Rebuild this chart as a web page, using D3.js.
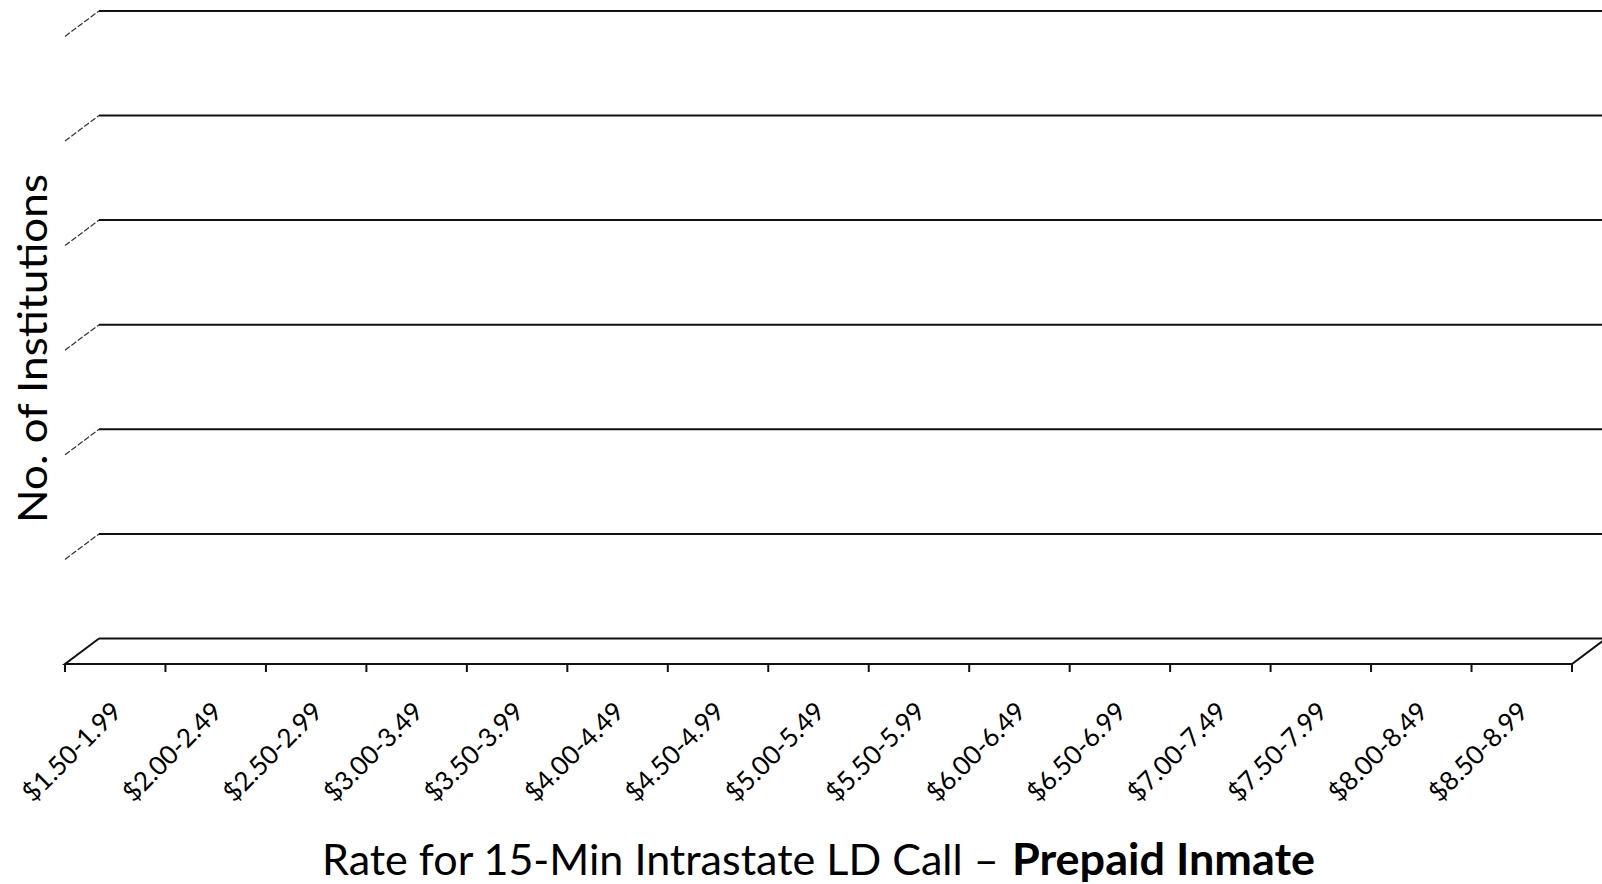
<!DOCTYPE html>
<html>
<head>
<meta charset="utf-8">
<script src="https://cdn.jsdelivr.net/npm/d3@7"></script>
<style>
  html, body { margin: 0; padding: 0; background: #fff; }
  svg { display: block; }
  text { font-family: Lato, "Open Sans", "Noto Sans", sans-serif; fill: #000; }
</style>
</head>
<body>
<svg id="chart" width="1602" height="884"></svg>
<script>
// Rate bands for a 15-minute intrastate long-distance prepaid call
const categories = [
  "$1.50-1.99", "$2.00-2.49", "$2.50-2.99", "$3.00-3.49", "$3.50-3.99",
  "$4.00-4.49", "$4.50-4.99", "$5.00-5.49", "$5.50-5.99", "$6.00-6.49",
  "$6.50-6.99", "$7.00-7.49", "$7.50-7.99", "$8.00-8.49", "$8.50-8.99"
];
// Number of institutions per rate band
const institutions = [0, 0, 0, 0, 0, 0, 0, 0, 0, 0, 0, 0, 0, 0, 0];
// Value-axis gridline positions (labels hidden)
const yTicks = [0, 1, 2, 3, 4, 5, 6];

const xTitleRegular = "Rate for 15-Min Intrastate LD Call \u2013";
const xTitleBold = "Prepaid Inmate";
const yTitle = "No. of Institutions";

const W = 1602, H = 884;
const svg = d3.select("#chart");

// 3-D depth offset of the back wall relative to the front plane
const DX = 34, DY = 25.5;

const x = d3.scaleBand().domain(categories).range([65, 1572]).paddingInner(0).paddingOuter(0);
const yFront = d3.scaleLinear().domain([0, 6]).range([664, 664 - 6 * 104.6]);
const yBack = v => yFront(v) - DY;

const x0 = x.range()[0], x1 = x.range()[1];
const g = svg.append("g");

// back-wall gridlines
g.selectAll("line.grid").data(yTicks).join("line")
  .attr("class", "grid")
  .attr("x1", x0 + DX).attr("x2", W + 10)
  .attr("y1", d => yBack(d)).attr("y2", d => yBack(d))
  .attr("stroke", "#111").attr("stroke-width", 2);

// side-wall depth segments for the gridlines
g.selectAll("line.side").data(yTicks.filter(d => d > 0)).join("line")
  .attr("class", "side")
  .attr("x1", x0).attr("y1", d => yFront(d))
  .attr("x2", x0 + DX).attr("y2", d => yBack(d))
  .attr("stroke", "#333").attr("stroke-width", 1.2)
  .attr("stroke-dasharray", "6,2");

// floor outline
const floor = d3.path();
floor.moveTo(x0 + DX, yBack(0));
floor.lineTo(x0, yFront(0));
floor.lineTo(x1, yFront(0));
floor.lineTo(x1 + DX, yBack(0));
g.append("path").attr("d", floor.toString())
  .attr("fill", "none").attr("stroke", "#111").attr("stroke-width", 2)
  .attr("stroke-linejoin", "miter");

// columns (3-D boxes sitting on the floor)
const bw = x.bandwidth() * 0.6;
const bars = g.append("g").selectAll("g.bar").data(categories.map((c, i) => ({ c, v: institutions[i] }))).join("g")
  .attr("class", "bar");
bars.append("rect")
  .attr("x", d => x(d.c) + (x.bandwidth() - bw) / 2 + DX * 0.3)
  .attr("y", d => yFront(d.v) - DY * 0.3)
  .attr("width", bw)
  .attr("height", d => yFront(0) - yFront(d.v))
  .attr("fill", "#4f81bd");

// category tick marks at band boundaries
const bounds = categories.map(c => x(c)).concat([x1]);
g.selectAll("line.tick").data(bounds).join("line")
  .attr("class", "tick")
  .attr("x1", d => d).attr("x2", d => d)
  .attr("y1", yFront(0)).attr("y2", yFront(0) + 8)
  .attr("stroke", "#111").attr("stroke-width", 2);

// rotated category labels
g.selectAll("text.cat").data(categories).join("text")
  .attr("class", "cat")
  .attr("transform", d => `translate(${x(d) + x.bandwidth() / 2 + 8},713) rotate(-45)`)
  .attr("text-anchor", "end")
  .style("font-size", "26px")
  .text(d => d);

// place a text element and stretch it horizontally to a target width
function fit(sel, cx, cy, rot, target) {
  const w = sel.node().getComputedTextLength();
  const s = target / w;
  sel.attr("transform", `translate(${cx},${cy}) rotate(${rot}) scale(${s},1)`);
}

// x-axis title: regular part followed by bold part
const xtA = svg.append("text").attr("text-anchor", "start").style("font-size", "43px").text(xTitleRegular);
fit(xtA, 322, 875, 0, 677);
const xtB = svg.append("text").attr("text-anchor", "start").style("font-size", "43px")
  .style("font-weight", "bold").text(xTitleBold);
fit(xtB, 1012, 875, 0, 303);

// y-axis title
const yt = svg.append("text").attr("text-anchor", "middle").style("font-size", "41.5px").text(yTitle);
fit(yt, 47, 348.5, -90, 349);
</script>
</body>
</html>
